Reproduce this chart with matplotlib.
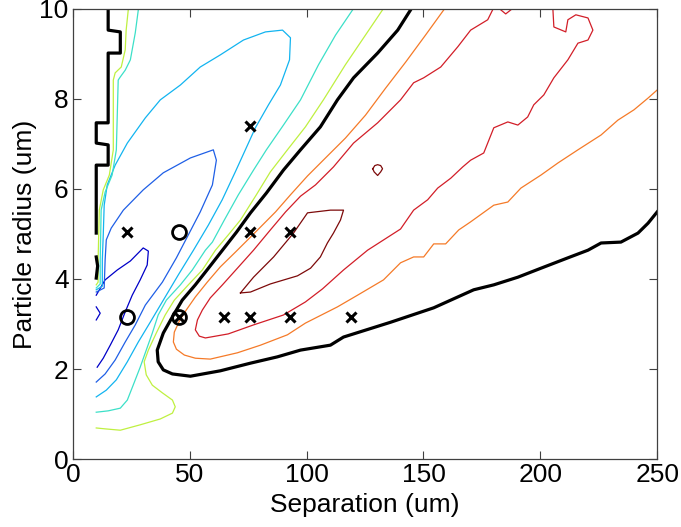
import numpy as np
import matplotlib.pyplot as plt

plt.rcParams['font.family'] = ['Liberation Sans', 'DejaVu Sans']

# contour lines (separation um, radius um)
navy_x = [10.0, 13.8, 19.0, 24.6, 30.1, 32.3, 31.8, 28.8, 25.4, 22.4, 19.4, 16.0, 13.0, 10.4]
navy_y = [3.64, 3.98, 4.2, 4.4, 4.69, 4.62, 4.31, 3.98, 3.64, 3.27, 2.87, 2.53, 2.24, 2.04]
navy_bump_x = [10.0, 11.7, 10.0]
navy_bump_y = [3.38, 3.24, 3.09]

blue_x = [10.0, 13.4, 13.8, 14.3, 16.4, 21.6, 30.1, 38.7, 50.3, 60.1, 61.4, 59.7, 54.5,
          49.4, 44.3, 38.3, 31.0, 26.7, 22.4, 18.1, 13.8, 10.0]
blue_y = [3.71, 3.8, 4.42, 4.87, 5.13, 5.53, 5.98, 6.36, 6.69, 6.87, 6.64, 6.09, 5.49,
          4.98, 4.47, 3.93, 3.42, 2.98, 2.6, 2.2, 1.89, 1.71]

lblue_x = [10.0, 12.6, 12.6, 13.0, 13.4, 14.7, 18.1, 23.3, 31.0, 37.4, 46.0, 54.5, 63.1,
           73.0, 82.4, 89.7, 93.1, 92.7, 88.8, 83.7, 78.1, 73.8, 69.5, 63.9, 58.0, 51.6,
           45.1, 38.7, 33.1, 28.0, 23.3, 18.6, 14.3, 10.0]
lblue_y = [3.76, 3.84, 4.42, 4.98, 5.64, 6.09, 6.53, 7.02, 7.58, 7.98, 8.31, 8.71, 8.98,
           9.31, 9.49, 9.53, 9.36, 8.87, 8.31, 7.87, 7.36, 6.87, 6.38, 5.76, 5.2, 4.64,
           4.09, 3.53, 3.04, 2.6, 2.16, 1.76, 1.53, 1.38]

cyan_top_x = [28.0, 26.7, 24.6, 22.4, 20.3, 19.4, 18.6, 16.8, 13.8, 12.1, 11.7, 11.7, 10.0]
cyan_top_y = [9.98, 9.47, 8.87, 8.64, 8.49, 8.42, 6.87, 6.31, 5.93, 5.53, 4.42, 3.89, 3.8]
cyan_x = [119.7, 112.4, 105.1, 97.4, 90.1, 82.8, 77.3, 70.8, 64.8, 59.7, 56.7, 51.1, 46.0,
          40.0, 36.5, 34.0, 31.4, 28.8, 25.8, 23.3, 20.3, 15.1, 10.0]
cyan_y = [9.98, 9.42, 8.76, 7.98, 7.42, 6.87, 6.42, 5.87, 5.31, 4.82, 4.64, 4.2, 3.87,
          3.53, 3.2, 2.8, 2.42, 2.04, 1.64, 1.31, 1.13, 1.07, 1.04]

yell_top_x = [23.7, 22.8, 22.4, 20.7, 18.1, 17.3, 17.3, 15.6, 13.0, 11.3, 10.8, 10.8, 10.0]
yell_top_y = [9.98, 9.53, 9.09, 8.71, 8.58, 8.42, 6.87, 6.31, 5.98, 5.53, 4.42, 3.93, 3.87]
yell_x = [132.5, 125.2, 116.6, 107.2, 99.5, 91.8, 84.5, 78.5, 71.7, 66.5, 61.0, 55.4, 49.4,
          43.4, 39.5, 35.7, 32.3, 30.5, 31.4, 34.0, 38.3, 42.6, 43.8, 42.6, 37.4, 28.8,
          20.3, 13.8, 10.0]
yell_y = [9.98, 9.42, 8.76, 7.98, 7.38, 6.87, 6.38, 5.87, 5.31, 4.98, 4.64, 4.2, 3.87,
          3.53, 3.2, 2.8, 2.42, 2.16, 1.87, 1.64, 1.47, 1.31, 1.16, 1.02, 0.89, 0.76,
          0.64, 0.67, 0.69]

black_left_x = [15.1, 15.1, 20.3, 20.3, 15.1, 15.1, 10.0, 10.0, 15.1, 15.1, 10.0, 10.0]
black_left_y = [9.98, 9.53, 9.49, 9.02, 9.02, 7.47, 7.47, 7.02, 6.98, 6.53, 6.53, 5.02]
black_bit_x = [10.0, 10.6, 10.0]
black_bit_y = [4.49, 4.29, 4.02]
black_x = [144.5, 139.0, 130.4, 120.1, 113.2, 105.9, 97.4, 90.1, 82.8, 76.0, 70.0, 64.0,
           58.0, 52.4, 46.8, 42.6, 38.7, 36.1, 36.5, 38.7, 42.6, 50.3, 63.1, 76.0, 87.5,
           97.4, 110.2, 115.8, 136.0, 154.4, 171.5, 180.1, 190.4, 200.3, 211.8, 220.4,
           226.0, 234.5, 241.8, 246.1, 250.0]
black_y = [9.98, 9.53, 9.02, 8.47, 7.98, 7.38, 6.87, 6.42, 5.91, 5.47, 5.04, 4.64,
           4.24, 3.87, 3.53, 3.16, 2.8, 2.42, 2.16, 1.98, 1.89, 1.84, 1.96, 2.13, 2.27,
           2.42, 2.53, 2.71, 3.04, 3.36, 3.76, 3.87, 4.04, 4.24, 4.47, 4.64,
           4.8, 4.82, 5.02, 5.24, 5.49]

orange_x = [158.7, 150.9, 142.4, 133.8, 125.2, 116.6, 108.1, 100.4, 93.1, 86.7, 78.1, 69.6,
            63.1, 57.5, 52.4, 48.5, 45.6, 43.4, 43.0, 44.3, 47.7, 52.4, 58.8, 70.4, 80.3,
            91.8, 99.5, 113.2, 121.8, 132.9, 140.2, 145.8, 150.1, 154.4, 159.5, 165.1,
            170.2, 180.1, 186.1, 191.7, 200.3, 207.6, 216.1, 226.0, 233.2, 240.1, 246.1, 250.0]
orange_y = [9.98, 9.42, 8.82, 8.24, 7.64, 7.13, 6.69, 6.29, 5.87, 5.49, 5.04, 4.6,
            4.27, 3.93, 3.6, 3.31, 3.07, 2.82, 2.6, 2.44, 2.31, 2.24, 2.22, 2.36, 2.53,
            2.76, 3.02, 3.38, 3.64, 3.98, 4.36, 4.49, 4.49, 4.78, 4.78, 5.09,
            5.27, 5.64, 5.71, 6.02, 6.31, 6.58, 6.87, 7.2, 7.53, 7.76, 8.02, 8.2]

red_x = [179.6, 177.5, 170.2, 164.7, 157.4, 150.1, 145.8, 140.2, 130.4, 120.1, 111.5, 103.8,
         97.4, 91.0, 84.5, 77.3, 70.4, 64.0, 58.8, 55.4, 53.3, 52.4, 54.1, 56.7, 66.5,
         77.3, 90.1, 99.5, 106.8, 115.8, 126.1, 140.2, 145.8, 151.8, 156.1, 161.7, 166.8,
         170.2, 175.8, 180.1, 186.1, 190.4, 194.6, 197.2, 201.5, 205.8, 211.8, 216.1,
         220.4, 222.5, 220.4, 215.2, 211.8, 210.9, 205.8, 205.4]
red_y = [9.98, 9.76, 9.53, 9.16, 8.71, 8.47, 8.36, 7.98, 7.47, 7.02, 6.49, 6.09,
         5.84, 5.49, 5.09, 4.64, 4.24, 3.87, 3.58, 3.31, 3.09, 2.87, 2.73, 2.69, 2.78,
         2.98, 3.2, 3.49, 3.78, 4.2, 4.64, 5.11, 5.53, 5.76, 6.02, 6.24, 6.49,
         6.64, 6.8, 7.36, 7.49, 7.42, 7.6, 7.87, 8.09, 8.47, 8.87, 9.24,
         9.31, 9.53, 9.8, 9.87, 9.76, 9.49, 9.6, 9.98]
red_dip_x = [183.1, 185.2, 187.4]
red_dip_y = [9.98, 9.89, 9.98]

dred_x = [71.7, 77.3, 85.9, 94.4, 100.4, 110.2, 115.8, 114.5, 111.5, 108.9, 105.9, 101.7,
          96.1, 84.5, 76.0, 71.7]
dred_y = [3.69, 4.04, 4.49, 5.02, 5.47, 5.53, 5.53, 5.31, 5.02, 4.8, 4.49, 4.24,
          4.07, 3.89, 3.71, 3.69]
dred_loop_x = [128.3, 129.2, 130.4, 131.7, 132.5, 131.7, 130.4, 128.9, 128.3]
dred_loop_y = [6.45, 6.52, 6.54, 6.52, 6.45, 6.38, 6.3, 6.38, 6.45]

# measured points
cross_x = [23.3, 76.0, 76.0, 93.1, 45.2, 64.5, 76.0, 93.1, 118.9]
cross_y = [5.04, 7.4, 5.04, 5.04, 3.16, 3.16, 3.16, 3.16, 3.16]
circ_x = [45.2, 23.3, 45.2]
circ_y = [5.04, 3.16, 3.16]

fig = plt.figure(figsize=(6.81, 5.27), dpi=100)
ax = fig.add_axes([0.107, 0.129, 0.858, 0.854])

thin = 0.9
ax.plot(navy_x, navy_y, color='#0000c8', lw=thin)
ax.plot(navy_bump_x, navy_bump_y, color='#0000c8', lw=thin)
ax.plot(blue_x, blue_y, color='#1f5fe6', lw=thin)
ax.plot(lblue_x, lblue_y, color='#12b4f0', lw=thin)
ax.plot(cyan_top_x, cyan_top_y, color='#3ce0c8', lw=thin)
ax.plot(cyan_x, cyan_y, color='#3ce0c8', lw=thin)
ax.plot(yell_top_x, yell_top_y, color='#bff040', lw=thin)
ax.plot(yell_x, yell_y, color='#bff040', lw=thin)
ax.plot(orange_x, orange_y, color='#f57a28', lw=thin)
ax.plot(red_x, red_y, color='#d21e28', lw=thin)
ax.plot(red_dip_x, red_dip_y, color='#d21e28', lw=thin)
ax.plot(dred_x, dred_y, color='#7d0a0a', lw=thin)
ax.plot(dred_loop_x, dred_loop_y, color='#7d0a0a', lw=thin)

thick = 2.3
ax.plot(black_left_x, black_left_y, color='k', lw=thick)
ax.plot(black_bit_x, black_bit_y, color='k', lw=thick)
ax.plot(black_x, black_y, color='k', lw=thick)

ax.plot(cross_x, cross_y, 'x', color='k', ms=7, mew=2.2)
ax.plot(circ_x, circ_y, 'o', mfc='none', mec='k', ms=10, mew=2)

ax.set_xlim(0, 250)
ax.set_ylim(0, 10)
ax.set_xticks([0, 50, 100, 150, 200, 250])
ax.set_yticks([0, 2, 4, 6, 8, 10])
ax.tick_params(direction='in', length=6, width=0.8, color='#404040',
               top=True, right=True, labelsize=19, pad=3)
for s in ax.spines.values():
    s.set_color('#404040')
    s.set_linewidth(0.9)
ax.set_xlabel('Separation (um)', fontsize=19, labelpad=4)
ax.set_ylabel('Particle radius (um)', fontsize=19, labelpad=2)

fig.savefig('out.png', dpi=100)
